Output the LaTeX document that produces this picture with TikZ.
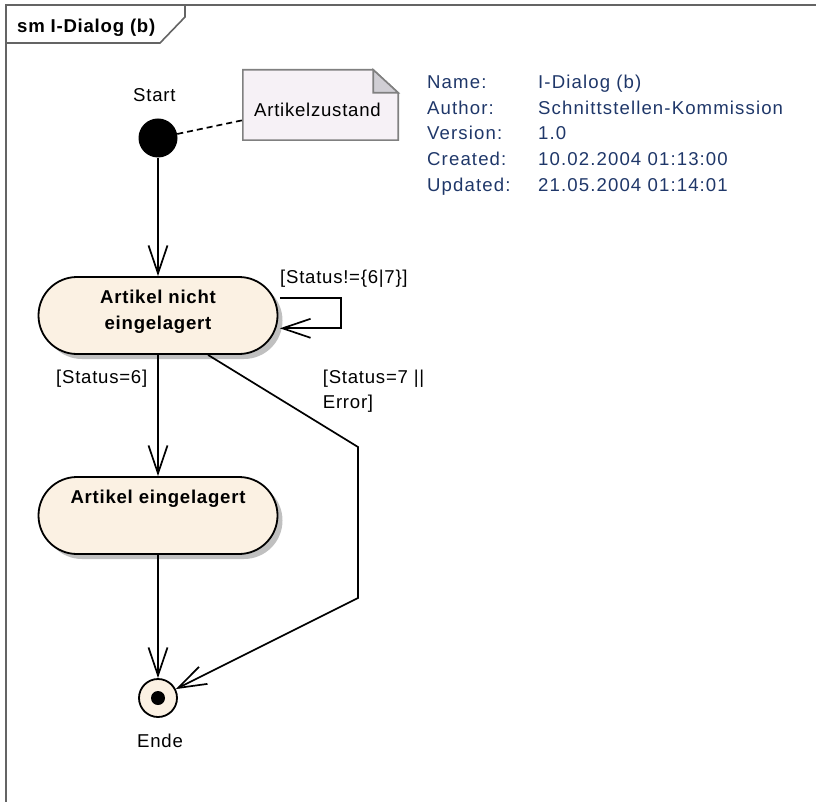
\documentclass[tikz,border=0pt]{standalone}
\usepackage{fontspec}
\setmainfont{Liberation Sans}[LetterSpace=4]
\newfontfamily\infofont{Liberation Sans}[LetterSpace=6]
\usetikzlibrary{arrows.meta,calc,shadows}

\definecolor{statefill}{RGB}{251,241,227}
\definecolor{shadowgray}{RGB}{192,192,192}
\definecolor{notefill}{RGB}{246,241,246}
\definecolor{notefold}{RGB}{208,206,212}
\definecolor{noteline}{RGB}{128,128,128}
\definecolor{framegray}{RGB}{100,100,100}
\definecolor{infoblue}{RGB}{31,55,105}

\tikzset{
  lbl/.style={font=\fontsize{18.6}{22}\selectfont, inner sep=0pt,
    text height=13.3pt, text depth=0pt, anchor=west},
  boldlbl/.style={lbl, font=\fontsize{18.6}{22}\selectfont\bfseries},
  info/.style={lbl, font=\infofont\fontsize{18.6}{22}\selectfont, text=infoblue},
  state/.style={draw=black, line width=1.8pt, fill=statefill,
    rounded corners=38.5pt, minimum width=239pt, minimum height=77pt,
    inner sep=0pt,
    drop shadow={shadow xshift=5pt, shadow yshift=-5pt, fill=shadowgray, opacity=1}},
  trans/.style={draw=black, line width=1.7pt,
    -{Straight Barb[length=28pt, width=19pt, line width=1.7pt]}},
}

\begin{document}
\begin{tikzpicture}[x=1pt,y=-1pt]
\useasboundingbox (0,0) rectangle (816,802);

% diagram frame with its name tab
\draw[framegray, line width=2pt] (5.5,802) -- (5.5,5.5) -- (816,5.5);
\draw[framegray, line width=1.6pt] (5.5,43) -- (160,43) -- (185,17) -- (185,5.5);
\node[boldlbl] (title) at (17,26.3) {sm I-Dialog (b)};

% initial state
\node[circle, fill=black, minimum size=39pt, inner sep=0pt] (start) at (158,138) {};
\node[lbl] (startlbl) at (133,95) {Start};

% note with folded corner
\node[minimum width=155pt, minimum height=70pt, inner sep=0pt] (note) at (320.5,105) {};
\filldraw[fill=notefill, draw=noteline, line width=1.6pt]
  (note.north west) -- ($(note.north east)+(-25,0)$) -- ($(note.north east)+(0,23)$)
  -- (note.south east) -- (note.south west) -- cycle;
\filldraw[fill=notefold, draw=noteline, line width=1.6pt]
  ($(note.north east)+(-25,0)$) -- ($(note.north east)+(-25,23)$)
  -- ($(note.north east)+(0,23)$) -- cycle;
\node[lbl] (notetext) at (254,110) {Artikelzustand};
\draw[dash pattern=on 6pt off 4pt, line width=1.7pt] (start) -- ($(note.south west)+(0,-20)$);

% states
\node[state] (s1) at (158,315.5) {};
\node[boldlbl, anchor=center] (s1a) at (158,297) {Artikel nicht};
\node[boldlbl, anchor=center] (s1b) at (158,323) {eingelagert};
\node[state] (s2) at (158,515.5) {};
\node[boldlbl, anchor=center] (s2a) at (158,497) {Artikel eingelagert};

% final state
\node[circle, draw=black, line width=1.8pt, fill=statefill, minimum size=38pt, inner sep=0pt] (final) at (158,698) {};
\fill (final.center) circle[radius=7pt];
\node[lbl] (endlbl) at (137,741) {Ende};

% transitions
\draw[trans] (start) -- (s1);
\draw[trans] (s1) -- (s2);
\draw[trans] (s2) -- (final);
\draw[trans] ($(s1.east)+(1.5,-17.8)$) -- ++(61,0) -- ++(0,30.6) -- ($(s1.east)+(1.5,12.8)$);
\coordinate (k1) at (358,447);
\coordinate (k2) at (358,598);
\draw[trans] ($(s1.south)+(50,0)$) -- (k1) -- (k2) -- (final);

% guards
\node[lbl] (g1) at (280,277) {[Status!=\{6|7\}]};
\node[lbl] (g2) at (56,377) {[Status=6]};
\node[lbl] (g3) at (322.7,377) {[Status=7 ||};
\node[lbl] (g3b) at (322.7,402) {Error]};

% diagram properties
\foreach \k/\v [count=\i from 0] in {Name:/I-Dialog (b), Author:/Schnittstellen-Kommission,
    Version:/1.0, Created:/10.02.2004 01:13:00, Updated:/21.05.2004 01:14:01} {
  \node[info] (ik\i) at (427,{81.7+25.8*\i}) {\k};
  \node[info] (iv\i) at (538,{81.7+25.8*\i}) {\v};
}
\end{tikzpicture}
\end{document}
